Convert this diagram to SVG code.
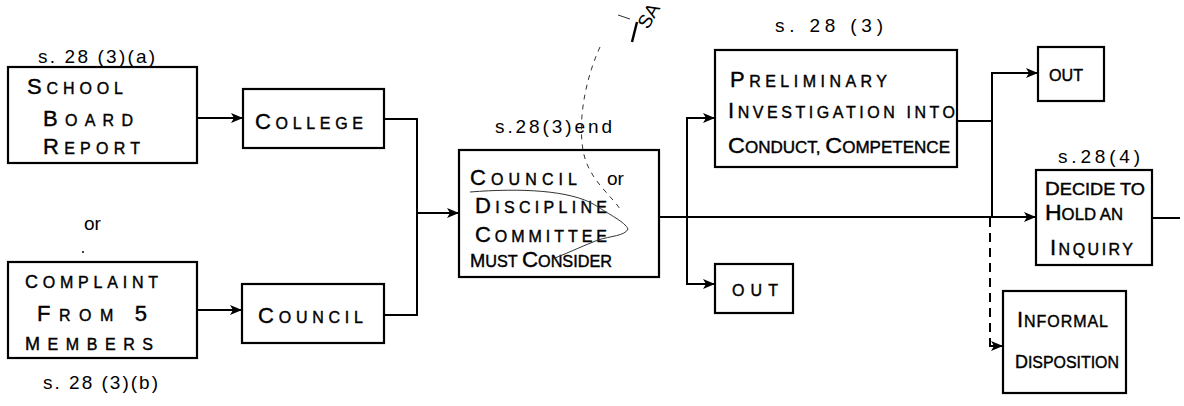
<svg xmlns="http://www.w3.org/2000/svg" width="1184" height="406" viewBox="0 0 1184 406">
<style>
.box{fill:none;stroke:#000;stroke-width:2.2}
.ln{fill:none;stroke:#000;stroke-width:2}
.t{font-family:"Liberation Sans",Arial,sans-serif;font-size:16px;fill:#000;stroke:#000;stroke-width:0.4}
.b{font-size:22px}
.m{font-size:18px}
.lbl{font-family:"Liberation Sans",Arial,sans-serif;font-size:19px;fill:#000}
.note{fill:none;stroke:#333;stroke-width:1}
</style>
<defs>
<marker id="ar" viewBox="0 0 12 10" refX="11" refY="5" markerWidth="12" markerHeight="10" markerUnits="userSpaceOnUse" orient="auto">
<path d="M0,0 L12,5 L0,10 L3,5 z" fill="#000"/>
</marker>
</defs>
<rect width="1184" height="406" fill="#fff"/>

<g id="connectors">
<path class="ln" d="M198,118 H242" marker-end="url(#ar)"/>
<path class="ln" d="M198,310 H241" marker-end="url(#ar)"/>
<path class="ln" d="M384,119 H417 V315 H384"/>
<path class="ln" d="M417,213 H458" marker-end="url(#ar)"/>
<path class="ln" d="M659,217 H1035" marker-end="url(#ar)"/>
<path class="ln" d="M687,217 V118 H714" marker-end="url(#ar)"/>
<path class="ln" d="M687,217 V284 H714" marker-end="url(#ar)"/>
<path class="ln" d="M957,121 H992"/>
<path class="ln" d="M992,218 V73 H1037" marker-end="url(#ar)"/>
<path class="ln" d="M990,218 V342" stroke-dasharray="9,6"/>
<path class="ln" d="M990,342 V346 H1002" marker-end="url(#ar)"/>
<path class="ln" d="M1152,218 H1180"/>
</g>

<g id="n-school">
<rect class="box" x="8" y="67" width="189" height="96"/>
<text class="t" x="27" y="94" textLength="96"><tspan class="b">S</tspan>CHOOL</text>
<text class="t" x="43" y="126" textLength="90"><tspan class="b">B</tspan>OARD</text>
<text class="t" x="43" y="154" textLength="97"><tspan class="b">R</tspan>EPORT</text>
<text class="lbl" x="38" y="63" textLength="117">s. 28 (3)(a)</text>
</g>

<g id="n-complaint">
<rect class="box" x="8" y="262" width="189" height="96"/>
<text class="t" x="25" y="288" textLength="133"><tspan class="m">C</tspan>OMPLAINT</text>
<text class="t" x="37" y="321" textLength="110"><tspan class="b">F</tspan>ROM <tspan class="b">5</tspan></text>
<text class="t" x="25" y="350" textLength="128"><tspan class="m">M</tspan>EMBERS</text>
<text class="lbl" x="43" y="389" textLength="115">s. 28 (3)(b)</text>
</g>

<g id="or-label">
<text class="lbl" x="84" y="230" font-size="16">or</text>
<circle cx="83" cy="252" r="1" fill="#000"/>
</g>

<g id="n-college">
<rect class="box" x="243" y="89" width="141" height="59"/>
<text class="t" x="255" y="129" textLength="108"><tspan class="b">C</tspan>OLLEGE</text>
</g>

<g id="n-council">
<rect class="box" x="242" y="284" width="142" height="59"/>
<text class="t" x="258" y="323" textLength="105"><tspan class="b">C</tspan>OUNCIL</text>
</g>

<g id="n-consider">
<rect class="box" x="459" y="150" width="200" height="127"/>
<text class="t" x="470" y="185" textLength="107"><tspan class="b">C</tspan>OUNCIL</text>
<text class="lbl" x="607" y="185" font-size="17">or</text>
<text class="t" x="475" y="213" textLength="132"><tspan class="b">D</tspan>ISCIPLINE</text>
<text class="t" x="475" y="242" textLength="132"><tspan class="b">C</tspan>OMMITTEE</text>
<text class="t" x="470" y="267" textLength="142" lengthAdjust="spacingAndGlyphs"><tspan class="m">M</tspan>UST <tspan class="b">C</tspan>ONSIDER</text>
<text class="lbl" x="495" y="133" textLength="117">s.28(3)end</text>
</g>

<g id="annotation">
<path class="note" d="M600,47 C585,80 578,120 583,150 C588,180 612,195 622,212" stroke-dasharray="5,5" stroke="#666"/>
<path class="note" d="M618,15 L630,19"/>
<path d="M637,22 L632,42" stroke="#000" stroke-width="2.5" fill="none"/>
<text class="lbl" font-size="13" transform="rotate(-60 648 30)" x="648" y="30">SA</text>
<path class="note" stroke="#000" d="M470,192 C520,188 570,190 595,205 C610,215 625,222 628,229 C625,236 610,236 598,240 C585,245 570,252 555,258"/>
</g>

<g id="n-prelim">
<rect class="box" x="715" y="50" width="242" height="117"/>
<text class="t" x="730" y="87" textLength="157"><tspan class="b">P</tspan>RELIMINARY</text>
<text class="t" x="728" y="118" textLength="227"><tspan class="b">I</tspan>NVESTIGATION INTO</text>
<text class="t" x="728" y="153" textLength="222" lengthAdjust="spacingAndGlyphs"><tspan class="b">C</tspan>ONDUCT, <tspan class="b">C</tspan>OMPETENCE</text>
<text class="lbl" x="775" y="32" textLength="108">s. 28 (3)</text>
</g>

<g id="n-out-top">
<rect class="box" x="1038" y="47" width="66" height="54"/>
<text class="t" x="1049" y="81" textLength="34" lengthAdjust="spacingAndGlyphs">OUT</text>
</g>

<g id="n-out-bottom">
<rect class="box" x="715" y="264" width="78" height="49"/>
<text class="t" x="732" y="296" textLength="46" font-size="18">OUT</text>
</g>

<g id="n-decide">
<rect class="box" x="1036" y="170" width="116" height="95"/>
<text class="t" x="1045" y="195" textLength="100" lengthAdjust="spacingAndGlyphs"><tspan class="m">D</tspan>ECIDE TO</text>
<text class="t" x="1045" y="220" textLength="78" lengthAdjust="spacingAndGlyphs"><tspan class="b">H</tspan>OLD AN</text>
<text class="t" x="1050" y="255" textLength="83"><tspan class="b">I</tspan>NQUIRY</text>
<text class="lbl" x="1058" y="163" textLength="82">s.28(4)</text>
</g>

<g id="n-informal">
<rect class="box" x="1003" y="291" width="123" height="102"/>
<text class="t" x="1017" y="327" textLength="91"><tspan class="b">I</tspan>NFORMAL</text>
<text class="t" x="1015" y="368" textLength="104" lengthAdjust="spacingAndGlyphs"><tspan class="m">D</tspan>ISPOSITION</text>
</g>
</svg>
